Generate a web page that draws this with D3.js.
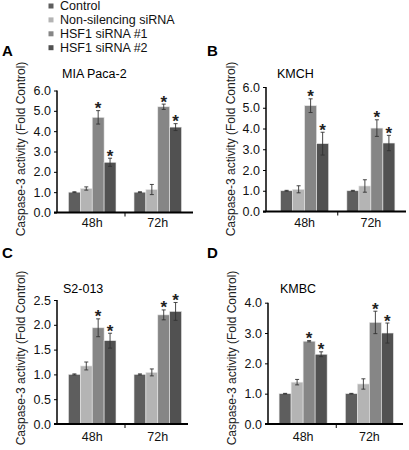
<!DOCTYPE html>
<html><head><meta charset="utf-8">
<script src="https://cdn.jsdelivr.net/npm/d3@7/dist/d3.min.js"></script>
<style>body{margin:0;background:#fff}svg{display:block;font-family:"Liberation Sans",Arial,sans-serif}</style>
</head><body>
<svg id="c" width="409" height="450"></svg>
<script>
// ---- data ----
const timepoints = ["48h", "72h"];
const seriesNames = ["Control", "Non-silencing siRNA", "HSF1 siRNA #1", "HSF1 siRNA #2"];
const seriesColors = ["#5e5e5e", "#b4b4b4", "#868686", "#515151"];
const panelLetters = ["A", "B", "C", "D"];
const cellLines = ["MIA Paca-2", "KMCH", "S2-013", "KMBC"];
const yTicksA = [0, 1, 2, 3, 4, 5, 6];
const yTicksB = [0, 1, 2, 3, 4, 5, 6];
const yTicksC = [0, 0.5, 1, 1.5, 2, 2.5];
const yTicksD = [0, 1, 2, 3, 4];
// means per timepoint [Control, Non-silencing, #1, #2]
const meansA = [[1.0, 1.18, 4.68, 2.47], [1.0, 1.13, 5.2, 4.2]];
const errA   = [[0.02, 0.08, 0.33, 0.2], [0.02, 0.25, 0.13, 0.17]];
const meansB = [[1.0, 1.07, 5.1, 3.27], [1.0, 1.23, 4.02, 3.3]];
const errB   = [[0.02, 0.17, 0.33, 0.55], [0.02, 0.3, 0.4, 0.37]];
const meansC = [[1.0, 1.17, 1.94, 1.68], [1.0, 1.04, 2.2, 2.27]];
const errC   = [[0.01, 0.08, 0.18, 0.15], [0.01, 0.07, 0.1, 0.18]];
const meansD = [[1.0, 1.38, 2.73, 2.3], [1.0, 1.32, 3.35, 3.0]];
const errD   = [[0.01, 0.09, 0.02, 0.08], [0.01, 0.17, 0.37, 0.33]];
const significant = [false, false, true, true];
const yLabel = "Caspase-3 activity (Fold Control)";

// ---- layout ----
const panels = [
  {means: meansA, err: errA, ticks: yTicksA, fmt: ".1f", ax: 57, yTop: 90.5, yBot: 212.5, band: [57, 193], axEnd: 193,
   letter: [2, 56], title: [62, 78], ylab: [21, 149], xlabY: 227},
  {means: meansB, err: errB, ticks: yTicksB, fmt: ".1f", ax: 266, yTop: 87, yBot: 211.5, band: [269, 406.5], axEnd: 406,
   letter: [207, 56], title: [277, 78], ylab: [231, 149], xlabY: 227},
  {means: meansC, err: errC, ticks: yTicksC, fmt: ".1f", ax: 57, yTop: 300, yBot: 424, band: [57, 193], axEnd: 188,
   letter: [2, 258], title: [63, 293], ylab: [21, 358], xlabY: 441},
  {means: meansD, err: errD, ticks: yTicksD, fmt: ".1f", ax: 268, yTop: 302.7, yBot: 424, band: [267.5, 405], axEnd: 403,
   letter: [207, 258], title: [280, 293], ylab: [232, 358], xlabY: 441}
];

const svg = d3.select("#c");

// legend
const leg = svg.append("g");
seriesNames.forEach((s, i) => {
  const cy = 6 + i * 13.9;
  leg.append("rect").attr("x", 48.5).attr("y", cy - 2.5).attr("width", 5).attr("height", 5).attr("fill", seriesColors[i]);
  leg.append("text").attr("x", 60).attr("y", cy + 4.3).attr("font-size", 12.5).attr("fill", "#111").text(s);
});

panels.forEach((p, pi) => {
  const g = svg.append("g");
  const yMax = d3.max(p.ticks);
  const y = d3.scaleLinear().domain([0, yMax]).range([p.yBot, p.yTop]);
  const x0 = d3.scaleBand().domain(timepoints).range(p.band).paddingInner(0.275).paddingOuter(0.175);
  const x1 = d3.scaleBand().domain(seriesNames).range([0, x0.bandwidth()]);

  g.append("text").attr("x", p.letter[0]).attr("y", p.letter[1]).attr("font-size", 15).attr("font-weight", "bold").text(panelLetters[pi]);
  g.append("text").attr("x", p.title[0]).attr("y", p.title[1]).attr("font-size", 12.5).text(cellLines[pi]);
  g.append("text").attr("transform", `translate(${p.ylab[0] + 4},${p.ylab[1]}) rotate(-90)`)
    .attr("text-anchor", "middle").attr("font-size", 12).attr("fill", "#222").text(yLabel);

  const yAxis = d3.axisLeft(y).tickValues(p.ticks).tickFormat(d3.format(p.fmt)).tickSize(3).tickPadding(3);
  const ya = g.append("g").attr("transform", `translate(${p.ax},0)`).call(yAxis);
  ya.select(".domain").attr("stroke", "#000").attr("stroke-width", 1.5).attr("d", `M0,${p.yBot}V${p.yTop}`);
  ya.selectAll(".tick line").attr("stroke", "#000");
  ya.selectAll(".tick text").attr("font-size", 12.5).attr("font-family", "Liberation Sans, Arial, sans-serif").attr("fill", "#111");

  timepoints.forEach((t, ti) => {
    const grp = g.append("g").attr("transform", `translate(${x0(t)},0)`);
    seriesNames.forEach((s, si) => {
      const v = p.means[ti][si], e = p.err[ti][si];
      const bx = x1(s), bw = x1.bandwidth();
      grp.append("rect").attr("x", bx).attr("y", y(v)).attr("width", bw).attr("height", y(0) - y(v))
        .attr("fill", seriesColors[si]).attr("stroke", "#e8e8e8").attr("stroke-width", 0.6);
      const cx = bx + bw / 2;
      grp.append("path").attr("d", `M${cx},${y(v + e)}V${y(v - e)}M${cx - 2},${y(v + e)}H${cx + 2}M${cx - 2},${y(v - e)}H${cx + 2}`)
        .attr("stroke", "#333").attr("stroke-width", 0.9).attr("fill", "none");
      if (significant[si]) {
        grp.append("text").attr("x", cx).attr("y", y(v + e) + 3.5).attr("text-anchor", "middle")
          .attr("font-size", 17).attr("font-weight", "bold").attr("fill", "#222").text("*");
      }
    });
  });

  const xa = g.append("g");
  xa.append("path").attr("d", `M${p.ax - 3},${p.yBot}H${p.axEnd}`).attr("stroke", "#000").attr("stroke-width", 2);
  const mid = (x0("48h") + x0.bandwidth() + x0("72h")) / 2;
  xa.append("path").attr("d", `M${mid},${p.yBot}v4`).attr("stroke", "#000").attr("stroke-width", 1);
  timepoints.forEach(t => {
    xa.append("text").attr("x", x0(t) + x0.bandwidth() / 2).attr("y", p.xlabY).attr("text-anchor", "middle")
      .attr("font-size", 12.5).attr("fill", "#111").text(t);
  });
});
</script>
</body></html>
